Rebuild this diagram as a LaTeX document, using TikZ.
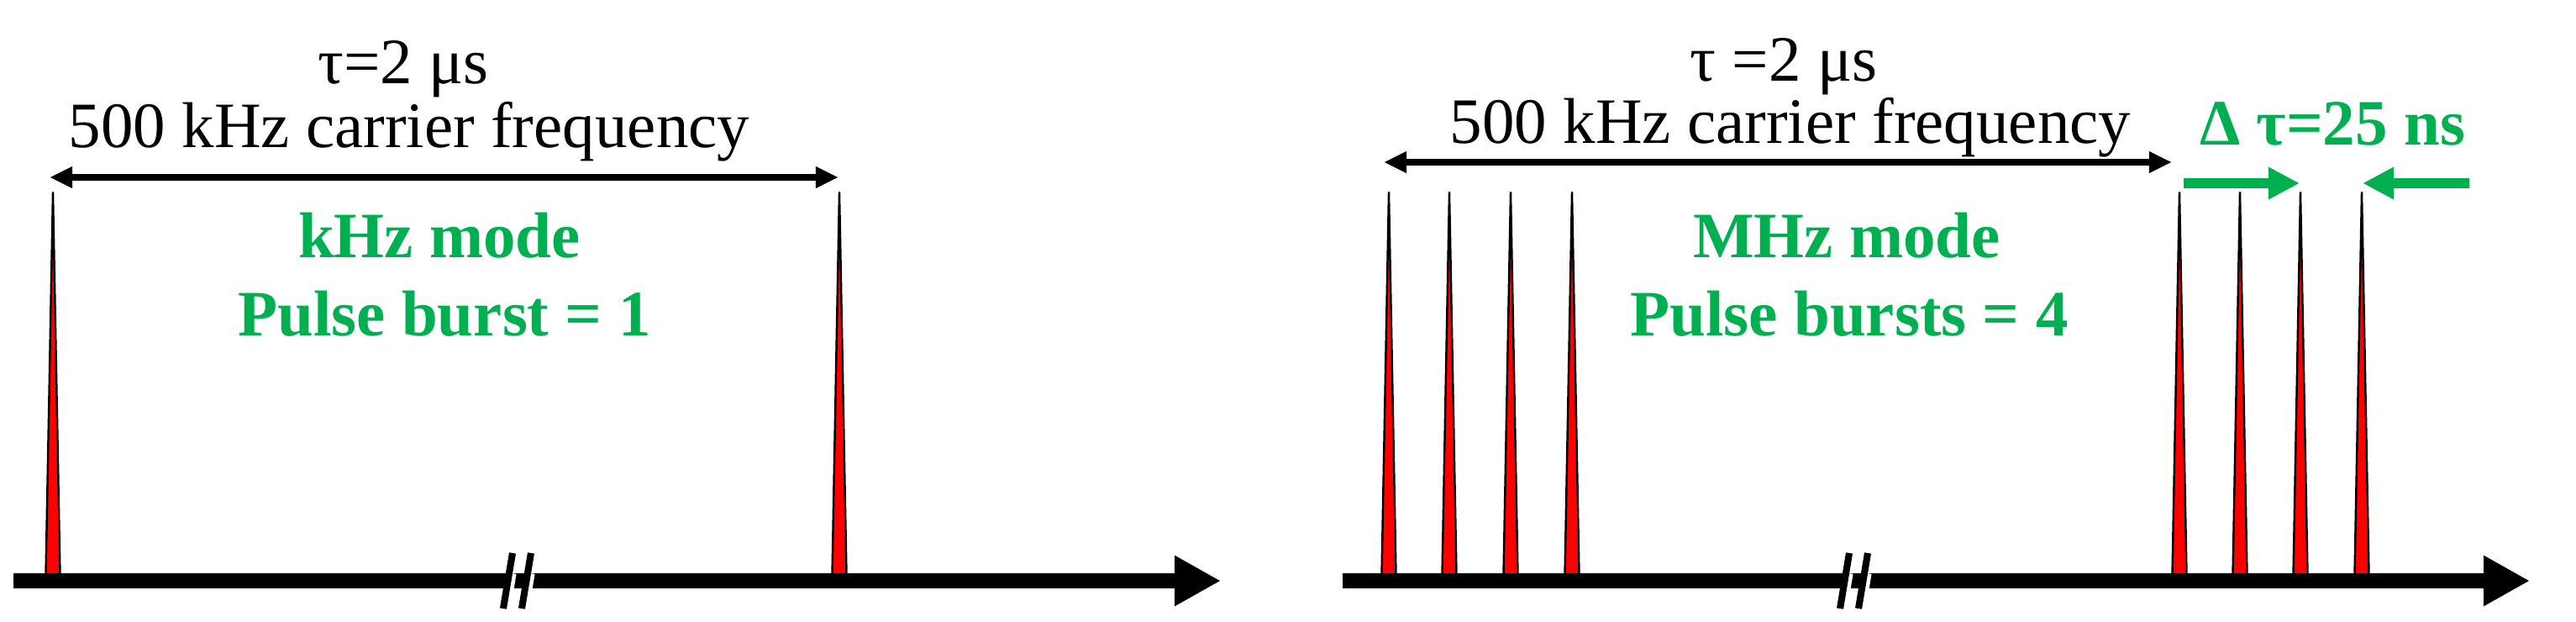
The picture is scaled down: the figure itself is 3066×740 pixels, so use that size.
\documentclass[tikz,border=0pt]{standalone}
\usepackage{fontspec}
\setmainfont{Liberation Serif}
\usetikzlibrary{arrows.meta}
\definecolor{mygreen}{RGB}{0,176,80}
\begin{document}
\begin{tikzpicture}[x=0.01cm,y=-0.01cm,
  pulse/.style={fill=red,draw=black,line width=0.7pt,line join=round},
  axisline/.style={line width=5.1pt,-{Triangle[length=15.6pt,width=16pt]}},
  span/.style={line width=2pt,{Triangle[length=7.7pt,width=6.8pt]}-{Triangle[length=7.7pt,width=6.8pt]}},
  garrow/.style={draw=mygreen,line width=3.4pt,-{Triangle[length=10.5pt,width=10.2pt]}},
  brkhalo/.style={draw=white,line width=3.2pt},
  brk/.style={draw=black,line width=2.3pt},
  lbl/.style={anchor=base,inner sep=0,font=\fontsize{21.9}{26}\selectfont},
  glbl/.style={anchor=base,inner sep=0,text=mygreen,font=\fontsize{21.9}{26}\selectfont\bfseries}]
\useasboundingbox (0,0) rectangle (3066,740);
% pulses
\foreach \x in {63,999,1653,1725,1798,1871,2594,2666,2738,2811}
  \draw[pulse] (\x-8.5,684) -- (\x,229) -- (\x+8.5,684) -- cycle;
% axes
\coordinate (axL1) at (16,691); \coordinate (axL2) at (1453,691);
\coordinate (axR1) at (1598,691); \coordinate (axR2) at (3011,691);
\draw[axisline] (axL1) -- (axL2);
\draw[axisline] (axR1) -- (axR2);
% axis breaks
\foreach \c in {604,2195}{
  \draw[brkhalo] (\c+5,682) -- (\c+2,700);
  \draw[brkhalo] (\c+27,682) -- (\c+24,700);
  \draw[brk] (\c+6,658) -- (\c-5,724);
  \draw[brk] (\c+28,658) -- (\c+17,724);
}
% left panel
\node[lbl] (tauL) at (480,100) {τ=2 μs};
\node[lbl] (freqL) at (487,176) {500 kHz carrier frequency};
\coordinate (sL1) at (59,211); \coordinate (sL2) at (998,211);
\draw[span] (sL1) -- (sL2);
\node[glbl] (modeL) at (523,307) {kHz mode};
\node[glbl] (burstL) at (529,400) {Pulse burst = 1};
% right panel
\node[lbl] (tauR) at (2123,97) {τ =2 μs};
\node[lbl] (freqR) at (2131,171) {500 kHz carrier frequency};
\coordinate (sR1) at (1647,193); \coordinate (sR2) at (2585,193);
\draw[span] (sR1) -- (sR2);
\node[glbl] (modeR) at (2198,307) {MHz mode};
\node[glbl] (burstR) at (2201,400) {Pulse bursts = 4};
\node[glbl] (dtau) at (2776,173) {Δ τ=25 ns};
\coordinate (g1a) at (2599,218); \coordinate (g1b) at (2737,218);
\coordinate (g2a) at (2939,218); \coordinate (g2b) at (2812,218);
\draw[garrow] (g1a) -- (g1b);
\draw[garrow] (g2a) -- (g2b);
\end{tikzpicture}
\end{document}
